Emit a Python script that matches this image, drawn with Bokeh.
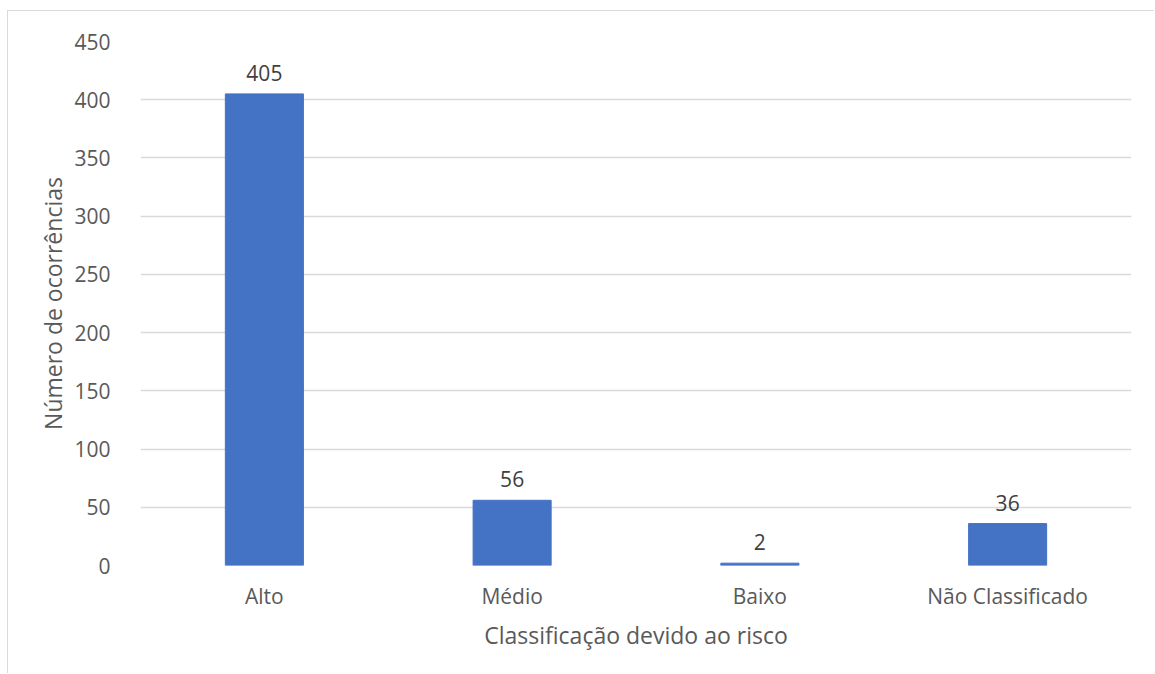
from bokeh.plotting import figure
from bokeh.models import ColumnDataSource, SingleIntervalTicker, FactorRange
from bokeh.embed import file_html
from bokeh.resources import INLINE
from bokeh.core.properties import value

categories = ["Alto", "Médio", "Baixo", "Não Classificado"]
counts = [405, 56, 2, 36]
labels = [str(c) for c in counts]

FONT = "Open Sans"
src = ColumnDataSource(data=dict(cat=categories, val=counts, lab=labels))

p = figure(
    x_range=FactorRange(*categories, range_padding=0),
    y_range=(0, 450),
    width=1147, height=663,
    output_backend="svg", toolbar_location=None,
    min_border_left=132, min_border_right=24, min_border_top=30, min_border_bottom=109,
)
p.styles = {"margin-left": "7px", "margin-top": "10px",
            "border-left": "1px solid #d9d9d9", "border-top": "1px solid #d9d9d9"}
p.outline_line_color = None
p.background_fill_color = "white"
p.border_fill_color = "white"

p.vbar(x="cat", top="val", width=0.315, source=src, fill_color="#4472C4", line_color="#4472C4")
p.text(x="cat", y="val", text="lab", source=src, text_align="center", text_baseline="bottom",
       y_offset=-13, text_font=value(FONT), text_font_size="21px", text_color="#404040")

p.xgrid.grid_line_color = None
p.ygrid.grid_line_color = "#d9d9d9"
p.ygrid.grid_line_width = 1.5
p.yaxis.ticker = SingleIntervalTicker(interval=50)

for ax in (p.xaxis[0], p.yaxis[0]):
    ax.axis_line_color = None
    ax.major_tick_line_color = None
    ax.minor_tick_line_color = None
    ax.major_label_text_font = FONT
    ax.major_label_text_font_size = "21px"
    ax.major_label_text_color = "#595959"
    ax.axis_label_text_font = FONT
    ax.axis_label_text_font_size = "23px"
    ax.axis_label_text_font_style = "normal"
    ax.axis_label_text_color = "#595959"

p.xaxis.axis_label = "Classificação devido ao risco"
p.yaxis.axis_label = "Número de ocorrências"
p.yaxis.major_label_standoff = 24
p.yaxis.axis_label_standoff = 2
p.xaxis.major_label_standoff = 10
p.xaxis.axis_label_standoff = 6

open("out.html", "w").write(file_html(p, INLINE))
